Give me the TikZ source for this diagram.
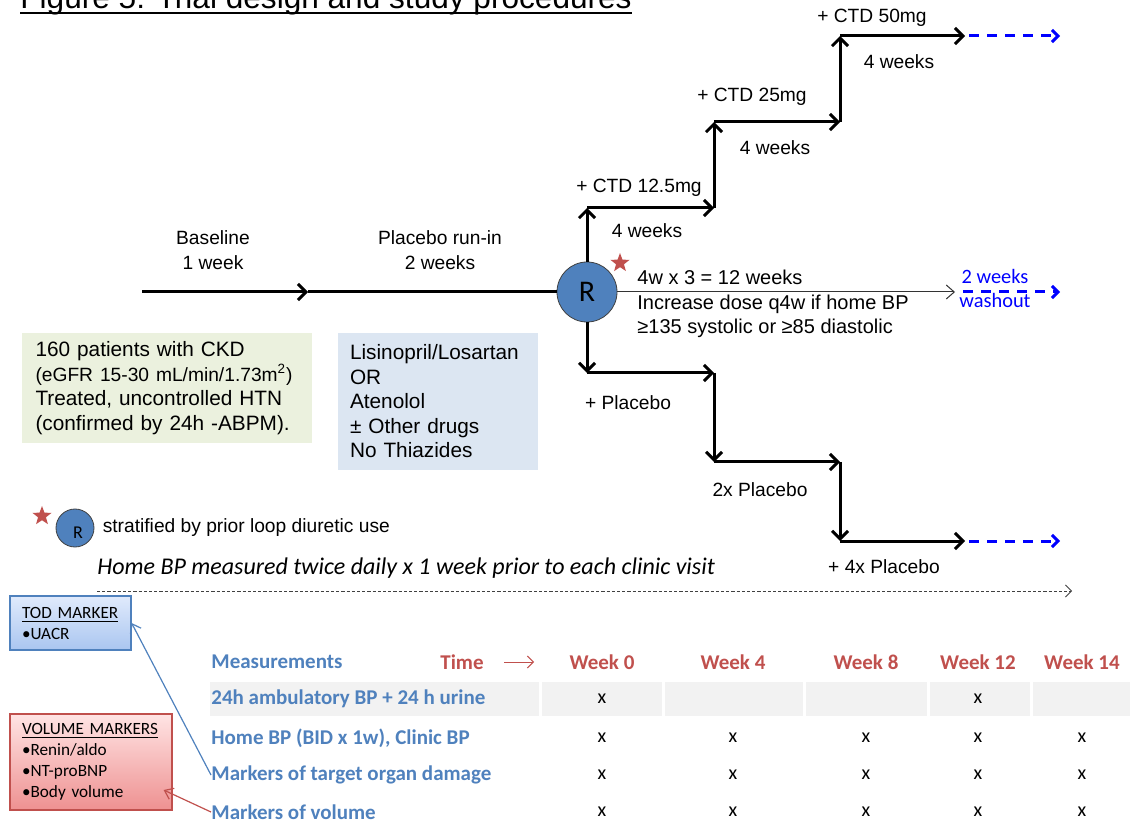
\documentclass[tikz,border=0pt]{standalone}
\usepackage{fontspec}
\setmainfont{Liberation Sans}
\newfontfamily\calibri{Carlito}
\usetikzlibrary{arrows.meta,shapes.geometric,positioning}

\definecolor{rblue}{RGB}{79,129,189}
\definecolor{rred}{RGB}{192,80,77}
\definecolor{patgreen}{RGB}{235,241,222}
\definecolor{drugblue}{RGB}{220,230,242}
\definecolor{rowgray}{RGB}{242,242,242}
\definecolor{todtop}{RGB}{224,234,252}
\definecolor{todbot}{RGB}{170,198,240}
\definecolor{voltop}{RGB}{255,228,228}
\definecolor{volbot}{RGB}{238,145,145}

\tikzset{
  lbl/.style={font=\fontsize{9.6}{12.25}\selectfont, align=center, inner sep=0pt},
  boxtxt/.style={font=\fontsize{10.4}{12.25}\selectfont, align=left, inner ysep=0pt},
  stair/.style={line width=1.5pt, -{Straight Barb[length=4pt,width=8pt]}},
  cont/.style={blue, line width=1.5pt, dash pattern=on 5pt off 4pt,
    -{Straight Barb[length=3pt,width=6pt]}},
  thinarr/.style={line width=0.5pt, black!80, -{Straight Barb[length=4pt,width=7pt]}},
  rnode/.style={circle, draw=black!75, fill=rblue, minimum size=30pt, inner sep=0pt,
    font=\calibri\fontsize{15}{15}\selectfont},
  starmark/.style={star, star points=5, star point ratio=2.4, fill=rred,
    minimum size=10pt, inner sep=0pt},
  markbox/.style={draw, line width=0.6pt, align=left, inner xsep=6pt,
    font=\calibri\fontsize{8.6}{10.5}\selectfont},
  meashead/.style={font=\calibri\bfseries\fontsize{10.5}{12}\selectfont, text=rblue,
    anchor=west, inner sep=0pt},
  wkhead/.style={font=\calibri\bfseries\fontsize{10.5}{12}\selectfont, text=rred,
    inner sep=0pt},
  xmark/.style={font=\calibri\fontsize{10}{12}\selectfont, inner sep=0pt},
}

\begin{document}
\begin{tikzpicture}[x=0.5pt,y=-0.5pt]
   \clip (0,0) rectangle (1130,823);

   % title, cut off at the top
   \node[anchor=base west, inner sep=0pt, font=\fontsize{15.8}{18}\selectfont]
      (ttl) at (20,9) {Figure 5: Trial design and study procedures};
   \draw[line width=1pt] ([yshift=-2pt]ttl.base west) -- ([yshift=-2pt]ttl.base east);

   % run-in and randomisation
   \path (142,292) coordinate (t0);
   \path (308,292) coordinate (t1);
   \node[rnode] (R) at (587,292) {R};
   \node[starmark] (st) at (620,263) {};
   \draw[stair] (t0) -- (t1);
   \draw[line width=1.5pt] (t1) -- (R.west);
   \node[lbl] (base) at (213,250) {Baseline\\1 week};
   \node[lbl] (runin) at (440,250) {Placebo run-in\\2 weeks};

   % CTD arm
   \path (587,208) coordinate (u1);
   \path (714,208) coordinate (u2);
   \path (714,122) coordinate (u3);
   \path (840,122) coordinate (u4);
   \path (840,36) coordinate (u5);
   \path (965,36) coordinate (u6);
   \path (1060,36) coordinate (u7);
   \draw[stair] (R.north) -- (u1);
   \draw[stair] (u1) -- (u2);
   \draw[stair] (u2) -- (u3);
   \draw[stair] (u3) -- (u4);
   \draw[stair] (u4) -- (u5);
   \draw[stair] (u5) -- (u6);
   \draw[cont] ([xshift=2pt]u6) -- (u7);
   \node[lbl] (ctd1) at (639,188) {+ CTD 12.5mg};
   \node[lbl] (wk1) at (647,231) {4 weeks};
   \node[lbl] (ctd2) at (752,97) {+ CTD 25mg};
   \node[lbl] (wk2) at (775,148) {4 weeks};
   \node[lbl] (ctd3) at (872,18) {+ CTD 50mg};
   \node[lbl] (wk3) at (899,62) {4 weeks};

   % placebo arm
   \path (587,373) coordinate (d1);
   \path (714,373) coordinate (d2);
   \path (714,462) coordinate (d3);
   \path (840,462) coordinate (d4);
   \path (840,541) coordinate (d5);
   \path (965,541) coordinate (d6);
   \path (1060,541) coordinate (d7);
   \draw[stair] (R.south) -- (d1);
   \draw[stair] (d1) -- (d2);
   \draw[stair] (d2) -- (d3);
   \draw[stair] (d3) -- (d4);
   \draw[stair] (d4) -- (d5);
   \draw[stair] (d5) -- (d6);
   \draw[cont] ([xshift=2pt]d6) -- (d7);
   \node[lbl] (pl1) at (628,403) {+ Placebo};
   \node[lbl] (pl2) at (760,490) {2x Placebo};
   \node[lbl] (pl3) at (884,567) {+ 4x Placebo};

   % 12 weeks + washout
   \path (955,292) coordinate (m1);
   \path (1060,292) coordinate (m2);
   \draw[thinarr] (R.east) -- (m1);
   \draw[cont] ([xshift=4pt]m1) -- (m2);
   \node[boxtxt, anchor=west, inner xsep=0pt, font=\fontsize{10}{12.25}\selectfont]
      (rule) at (637,304) {4w x 3 = 12 weeks\\Increase dose q4w if home BP\\%
      ≥135 systolic or ≥85 diastolic};
   \node[align=center, inner sep=0pt, text=blue, font=\calibri\fontsize{10.2}{12}\selectfont]
      (wash) at (995,288) {2 weeks\\washout};

   % inclusion and background therapy
   \node[boxtxt, fill=patgreen, minimum height=55pt, text width=131pt, inner xsep=7pt]
      (pat) at (166.5,388) {160 patients with CKD\\%
      {\fontsize{9.6}{12.25}\selectfont (eGFR 15-30 mL/min/1.73m\textsuperscript{2})}\\%
      Treated, uncontrolled HTN\\(confirmed by 24h -ABPM).};
   \node[boxtxt, fill=drugblue, minimum height=68.5pt, text width=88pt, inner xsep=6pt]
      (drug) at (438,401.5) {Lisinopril/Losartan\\OR\\Atenolol\\± Other drugs\\No Thiazides};

   % legend for R
   \node[starmark] (legst) at (42,516) {};
   \node[circle, draw=black!75, fill=rblue, minimum size=19pt, inner sep=0pt] (rleg) at (75,528) {};
   \node[inner sep=0pt, font=\calibri\fontsize{9}{9}\selectfont] (rlegtxt)
      at ([xshift=1.5pt,yshift=-2.5pt]rleg.center) {R};
   \node[lbl, anchor=west, right=4pt of rleg] (strat) {stratified by prior loop diuretic use};

   % home BP
   \node[anchor=west, inner sep=0pt, font=\calibri\itshape\fontsize{12}{14}\selectfont]
      (home) at (97,568) {Home BP measured twice daily x 1 week prior to each clinic visit};
   \path (97,591) coordinate (h0);
   \path (1072,591) coordinate (h1);
   \draw[line width=0.4pt, black!75, dash pattern=on 1.6pt off 1pt,
      -{Straight Barb[length=3pt,width=6pt]}] (h0) -- (h1);

   % marker boxes
   \node[markbox, draw=rblue, top color=todtop, bottom color=todbot,
      minimum width=60.5pt, minimum height=27pt, text width=48.5pt]
      (tod) at (70.5,623) {\underline{TOD MARKER}\\•UACR};
   \node[markbox, draw=rred, top color=voltop, bottom color=volbot,
      minimum width=81pt, minimum height=48pt, text width=69pt]
      (vol) at (91,762) {\underline{VOLUME MARKERS}\\•Renin/aldo\\•NT-proBNP\\•Body volume};

   % schedule of measurements
   \fill[rowgray] (210,682) rectangle (1130,716);
   \foreach \sx in {540,663,804,928,1031}
   {
      \draw[white, line width=1.5pt] (\sx,682) -- (\sx,716);
   }
   \node[meashead] (mhead) at (211,662) {Measurements};
   \node[wkhead] (time) at (462,662) {Time};
   \draw[rred, line width=0.5pt, -{Straight Barb[length=3pt,width=6pt]}]
      ([xshift=10pt]time.east) -- ++(15pt,0);
   \foreach \wx/\wl in {602/0,733/4,866/8,978/12,1082/14}
   {
      \node[wkhead] (w\wl) at (\wx,662) {Week \wl};
   }
   \node[meashead] (row1) at (211,699) {24h ambulatory BP + 24 h urine};
   \node[meashead] (row2) at (211,738) {Home BP (BID x 1w), Clinic BP};
   \node[meashead] (row3) at (211,775) {Markers of target organ damage};
   \node[meashead] (row4) at (211,812) {Markers of volume};
   \foreach \wx/\wl in {602/0,978/12}
   {
      \node[xmark] (x1-\wl) at (\wx,699) {x};
   }
   \foreach \r/\ry in {2/738,3/775,4/812}
   {
      \foreach \wx/\wl in {602/0,733/4,866/8,978/12,1082/14}
      {
         \node[xmark] (x\r-\wl) at (\wx,\ry) {x};
      }
   }

   % links to marker boxes
   \draw[rblue, line width=0.6pt, -{Straight Barb[length=4pt,width=6pt]}] (row3.west) -- (tod.east);
   \draw[rred, line width=0.6pt, -{Straight Barb[length=4pt,width=6pt]}]
      (row4.west) -- ([xshift=-4.5pt,yshift=-14pt]vol.east);
\end{tikzpicture}
\end{document}
